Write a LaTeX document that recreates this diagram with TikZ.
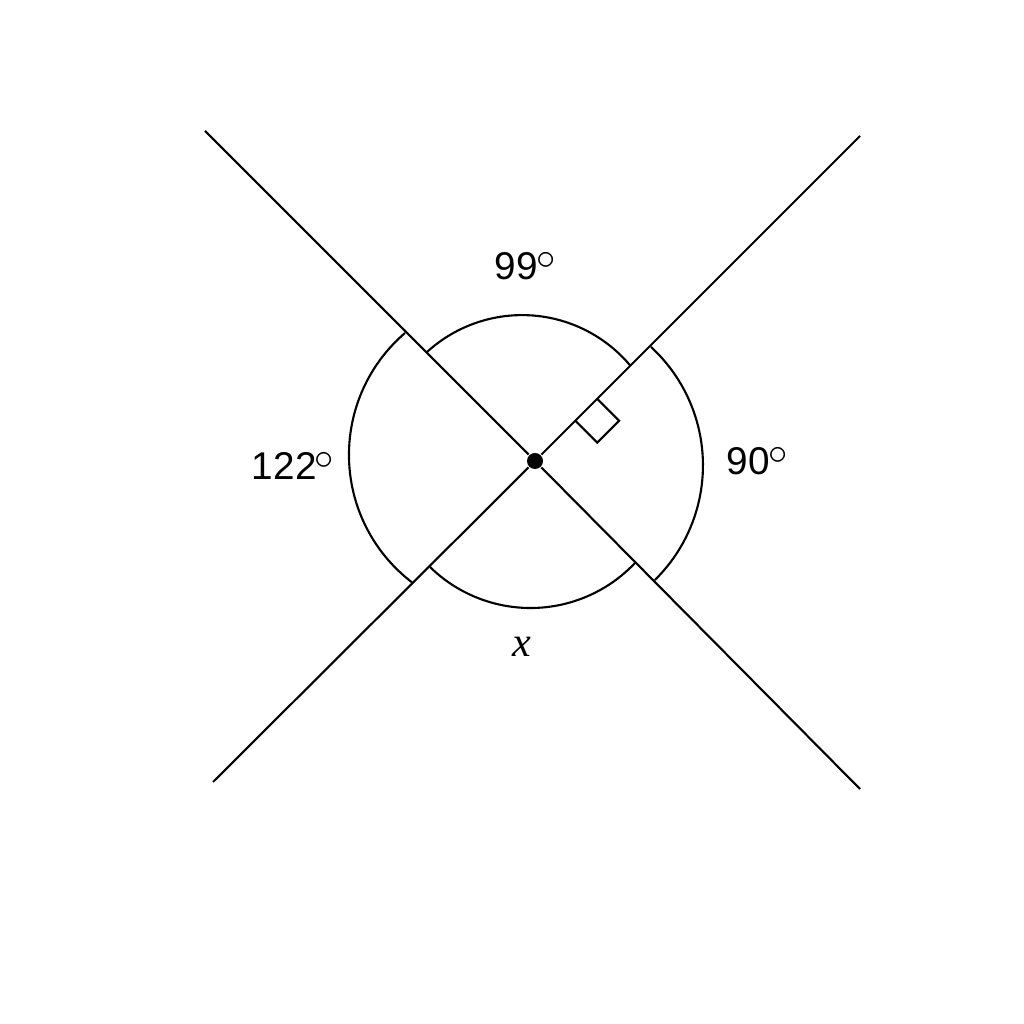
\documentclass[tikz,border=0pt]{standalone}
\usepackage{fontspec}
\setmainfont{Liberation Sans}
\newfontfamily\timesfont{Liberation Serif}
\usepackage{tikz}
\usetikzlibrary{arrows.meta, positioning, calc}
\newcommand{\degring}{\kern-0.5pt\raisebox{3pt}{$\circ$}}

\begin{document}
\begin{tikzpicture}[x=0.01cm, y=0.01cm, line width=0.6pt,
    angtext/.style={font=\fontsize{11}{13}\selectfont, inner sep=0pt}]
    \useasboundingbox (0,0) rectangle (1024,1024);
    \coordinate(UL) at (205,893);
    \coordinate(UR) at (860,888);
    \coordinate(LL) at (213,242);
    \coordinate(LR) at (860,235);
    \node(O) at (535,563) [circle, fill, inner sep = 0pt, minimum size = 0.16cm] {}
      edge [-, ] (UL)
      edge [-, ] (UR)
      edge [-, ] (LL)
      edge [-, ] (LR)
      ;
    % arcs round the point
    \draw (427,672) arc[start angle=132.4, end angle=40.1, radius=1.41cm];
    \draw (405,691) arc[start angle=130.6, end angle=233.1, radius=1.604cm];
    \draw (651,677) arc[start angle=47.4, end angle=-45.5, radius=1.607cm];
    \draw (430,457) arc[start angle=225.6, end angle=316.7, radius=1.436cm];
    % right angle mark
    \draw ($(O)+(45:57)$) -- ++(-45:31) -- ++(45:31) -- ++(135:31);
    \node(A99) at (525,758) [angtext] {99\degring};
    \node(A122) at (293,558) [angtext] {122\degring};
    \node(A90) at (757,563) [angtext] {90\degring};
    \node(AX) at (522,377) [font=\timesfont\itshape\fontsize{12}{14}\selectfont, inner sep=0pt] {x};
\end{tikzpicture}
\end{document}
